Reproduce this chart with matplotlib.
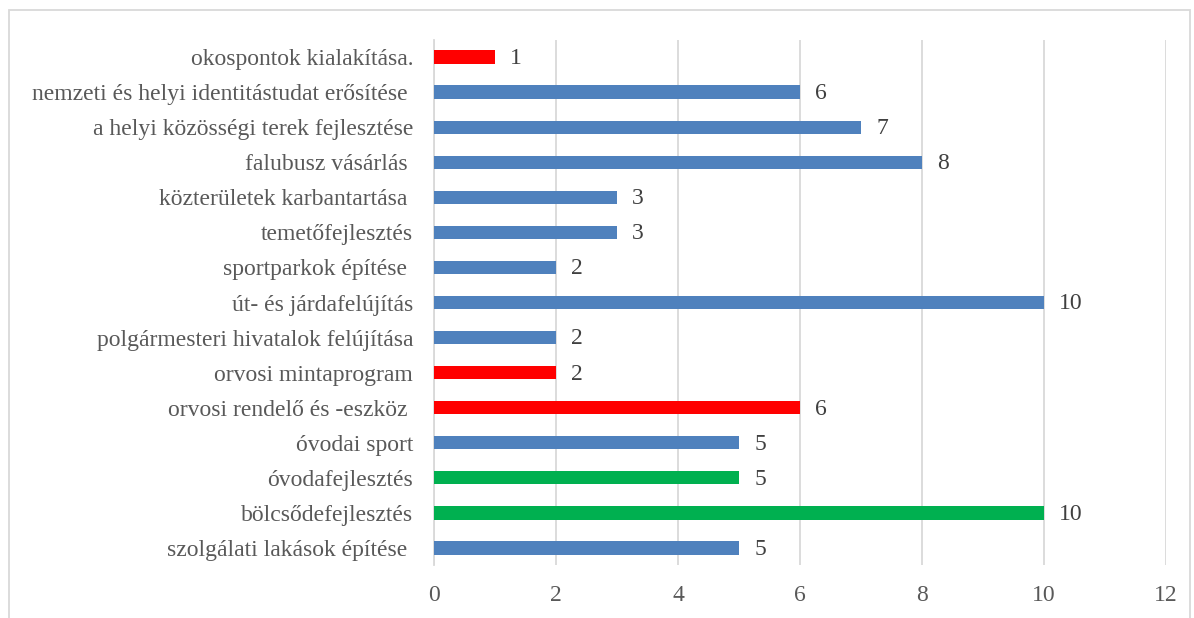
import matplotlib.pyplot as plt
from matplotlib.patches import Rectangle

# kategóriák alulról felfelé
categories = [
    "szolgálati lakások építése ",
    "bölcsődefejlesztés",
    "óvodafejlesztés",
    "óvodai sport",
    "orvosi rendelő és -eszköz ",
    "orvosi mintaprogram",
    "polgármesteri hivatalok felújítása",
    "út- és járdafelújítás",
    "sportparkok építése ",
    "temetőfejlesztés",
    "közterületek karbantartása ",
    "falubusz vásárlás ",
    "a helyi közösségi terek fejlesztése",
    "nemzeti és helyi identitástudat erősítése ",
    "okospontok kialakítása.",
]
values = [5, 10, 5, 5, 6, 2, 2, 10, 2, 3, 3, 8, 7, 6, 1]
groups = ["blue", "green", "green", "blue", "red", "red", "blue", "blue",
          "blue", "blue", "blue", "blue", "blue", "blue", "red"]
palette = {"blue": "#4f81bd", "green": "#00b050", "red": "#ff0000"}
xticks = [0, 2, 4, 6, 8, 10, 12]

plt.rcParams['font.family'] = ['Liberation Serif', 'DejaVu Serif']
text_color = "#595959"

fig = plt.figure(figsize=(11.94, 6.18), dpi=100)
ax = fig.add_axes([0.3635, 0.085, 0.613, 0.851])

y = range(len(categories))
ax.barh(y, values, height=0.38, color=[palette[g] for g in groups], zorder=3)
for yi, v in zip(y, values):
    ax.text(v + 0.25, yi - 0.04, str(v), va="center", ha="left", fontsize=17, color="#404040")

ax.set_xlim(0, 12)
ax.set_ylim(-0.5, len(categories) - 0.5)
ax.set_xticks(xticks)
ax.set_yticks(list(y))
ax.set_yticklabels(categories)
ax.tick_params(axis="both", length=0, labelsize=17, colors=text_color)
ax.tick_params(axis="y", pad=15)
ax.tick_params(axis="x", pad=14)
ax.grid(axis="x", color="#d9d9d9", linewidth=1.3, zorder=0)
for s in ["top", "right", "bottom"]:
    ax.spines[s].set_visible(False)
ax.spines["left"].set_color("#d9d9d9")
ax.spines["left"].set_linewidth(1.3)

# keret a diagram körül
fig.patches.append(Rectangle((9 / 1194, -0.01), 1181 / 1194, 1 - 10 / 618 + 0.01,
                             transform=fig.transFigure, fill=False,
                             edgecolor="#d9d9d9", linewidth=1.3))

fig.savefig("out.png", dpi=100)
